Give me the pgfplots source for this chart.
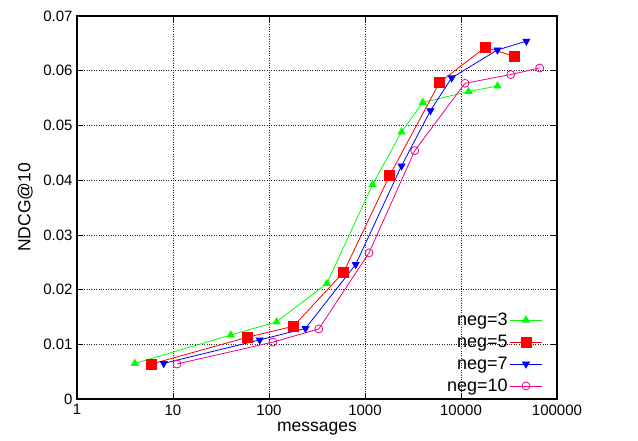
\documentclass[border=0pt]{standalone}
\usepackage{fontspec}
\setmainfont{Liberation Sans}
\usepackage{pgfplots}
\pgfplotsset{compat=1.18}
\begin{document}
\begin{tikzpicture}
\begin{axis}[
  at={(0,0)}, anchor=south west,
  scale only axis, width=480pt, height=383pt,
  xmode=log, xmin=1, xmax=100000, ymin=0, ymax=0.07,
  log basis x=10,
  scaled y ticks=false,
  xtick={1,10,100,1000,10000,100000},
  xticklabels={1,10,100,1000,10000,100000},
  ytick={0,0.01,0.02,0.03,0.04,0.05,0.06,0.07},
  yticklabels={0,0.01,0.02,0.03,0.04,0.05,0.06,0.07},
  minor ytick={},
  tick align=inside, tick pos=both,
  major tick length=6pt, minor tick length=3pt,
  every tick/.style={black, line width=0.6pt},
  grid=major,
  major grid style={dotted, black!85, line width=0.7pt},
  axis line style={line width=1.2pt},
  tick label style={font=\fontsize{15}{17}\selectfont},
  /pgf/number format/assume math mode=true,
  xticklabel style={yshift=-2pt},
  yticklabel style={xshift=-1pt},
  xlabel={messages}, ylabel={NDCG@10},
  label style={font=\fontsize{17.5}{20}\selectfont},
  xlabel style={at={(axis description cs:0.5,-0.078)}, anchor=center},
  ylabel style={at={(axis description cs:-0.108,0.5)}, anchor=center},
  legend style={draw=none, fill=none, at={(rel axis cs:0.97,0.01)}, anchor=south east,
    font=\fontsize{18}{20}\selectfont, row sep=4pt, inner sep=0pt},
  legend cell align=right,
  legend plot pos=right,
  legend image code/.code={\draw[mark repeat=2,mark phase=2,#1] plot coordinates {(0pt,0pt) (16pt,0pt) (32pt,0pt)};},
  every axis plot/.append style={line width=0.8pt},
]
\addplot[green, mark=triangle*, mark size=4pt, mark options={solid}] coordinates {
 (4,0.0065) (40,0.0117) (120,0.0141) (400,0.0211) (1200,0.0392) (2400,0.0488) (4000,0.0542) (12000,0.0562) (24000,0.0572)};
\addlegendentry{neg=3}
\addplot[red, mark=square*, mark size=5pt] coordinates {
 (6,0.0064) (60,0.0113) (180,0.0133) (600,0.0232) (1800,0.0408) (6000,0.0579) (18000,0.0643) (36000,0.0626)};
\addlegendentry{neg=5}
\addplot[blue, mark=triangle*, mark size=4pt, mark options={rotate=180}] coordinates {
 (8,0.0065) (80,0.0108) (240,0.0129) (800,0.0246) (2400,0.0426) (4800,0.0527) (8000,0.0587) (24000,0.0638) (48000,0.0654)};
\addlegendentry{neg=7}
\addplot[magenta, mark=o, mark size=4pt] coordinates {
 (11,0.0064) (110,0.0104) (330,0.0128) (1100,0.0267) (3300,0.0454) (11000,0.0577) (33000,0.0593) (66000,0.0605)};
\addlegendentry{neg=10}
\end{axis}
\path[use as bounding box] (-77pt,-41pt) rectangle (561pt,399pt);
\end{tikzpicture}
\end{document}
